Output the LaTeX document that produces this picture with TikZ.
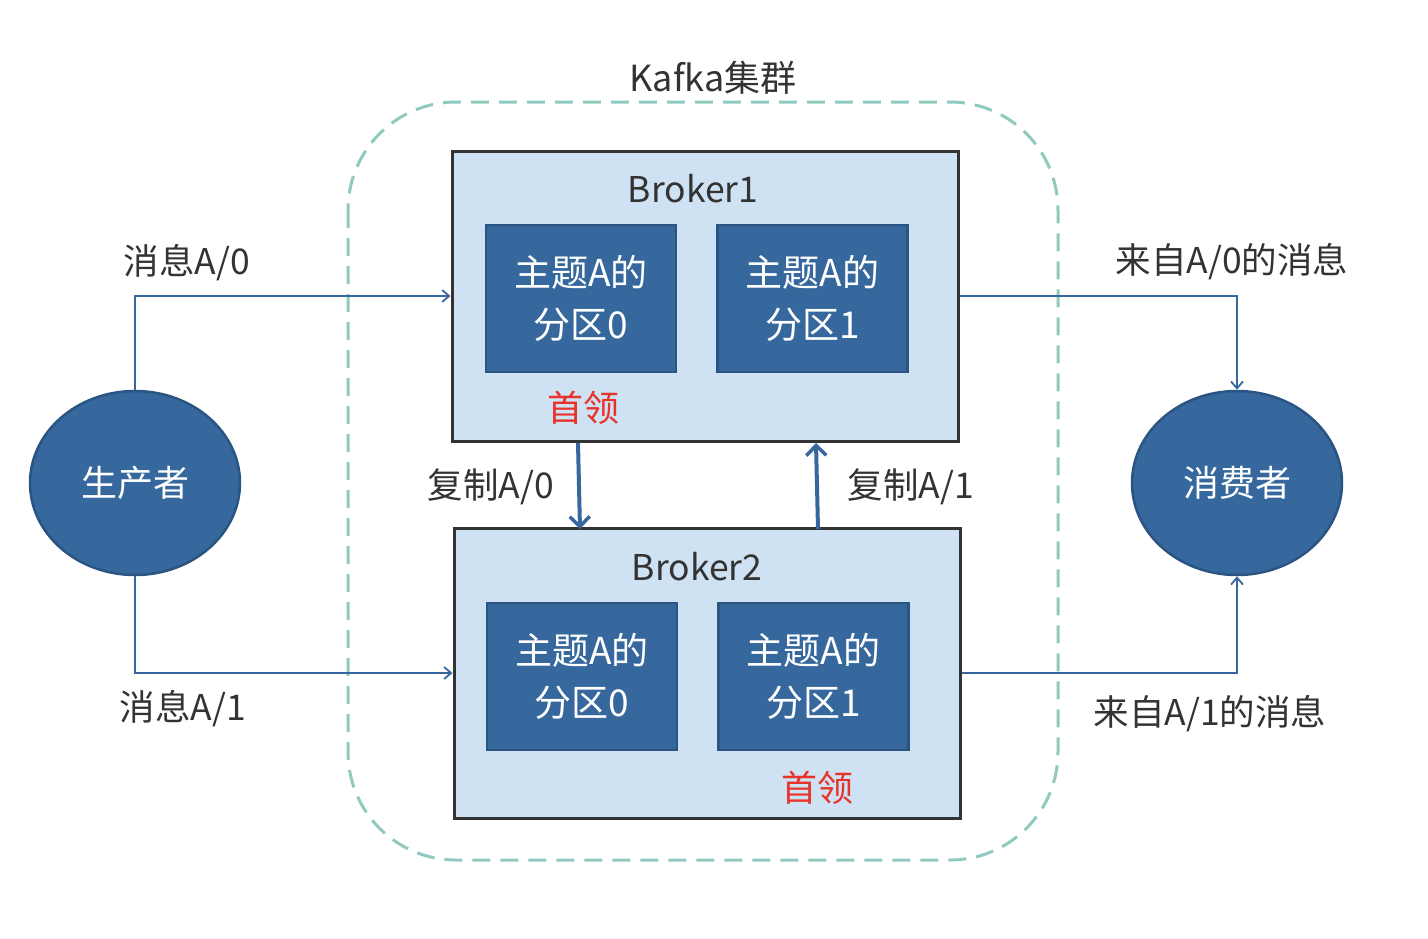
\documentclass[tikz,border=0pt]{standalone}
\usepackage{fontspec}
\setmainfont{Noto Sans CJK SC}
\usetikzlibrary{arrows.meta,shapes.geometric}
\definecolor{cblue}{HTML}{36689E}
\definecolor{cborder}{HTML}{2A5582}
\definecolor{clight}{HTML}{CFE2F3}
\definecolor{cteal}{HTML}{8FC9BF}
\definecolor{ctext}{HTML}{333333}
\definecolor{cred}{HTML}{E8332A}
\tikzset{
  broker/.style={draw=ctext,line width=3pt,fill=clight,minimum width=506pt,minimum height=290pt,inner sep=0pt},
  part/.style={draw=cborder,line width=2.5pt,fill=cblue,minimum width=190pt,minimum height=147pt,inner sep=0pt,text=white,font=\fontsize{37}{52}\selectfont,align=center},
  client/.style={ellipse,draw=cborder,line width=2.5pt,fill=cblue,minimum width=210pt,minimum height=184pt,inner sep=0pt,text=white,font=\fontsize{36}{40}\selectfont},
  lbl/.style={text=ctext,font=\fontsize{35.5}{40}\selectfont,inner sep=0pt},
  leader/.style={text=cred,font=\fontsize{36}{40}\selectfont,inner sep=0pt},
  flow/.style={draw=cblue,line width=1.8pt,-{Straight Barb[length=7pt,width=12pt,line width=1.8pt]}},
  repl/.style={draw=cblue,line width=4pt,-{Straight Barb[length=10pt,width=20pt,line width=3.5pt]}},
}
\begin{document}
\begin{tikzpicture}[x=1pt,y=-1pt]
\useasboundingbox (0,0) rectangle (1428,938);
% cluster
\draw[cteal,line width=3pt,dash pattern=on 18pt off 10pt,rounded corners=108pt] (348,102) rectangle (1058,860);
\node[lbl,font=\fontsize{36}{40}\selectfont] (kafka) at (713,78) {Kafka集群};
% brokers
\node[broker] (b1) at (705,296) {};
\node[broker] (b2) at (707,673.5) {};
\node[lbl] (b1t) at (693,189) {Broker1};
\node[lbl] (b2t) at (697,567) {Broker2};
\node[part] (p10) at (581,298.5) {主题A的\\分区0};
\node[part] (p11) at (812.5,298.5) {主题A的\\分区1};
\node[part] (p20) at (582,676.5) {主题A的\\分区0};
\node[part] (p21) at (813.5,676.5) {主题A的\\分区1};
\node[leader] (l1) at (583,408) {首领};
\node[leader] (l2) at (817,788) {首领};
% clients
\node[client] (prod) at (135,483) {生产者};
\node[client] (cons) at (1237,483) {消费者};
% flows
\coordinate (pu) at (135,296);
\coordinate (pd) at (135,673);
\coordinate (cu) at (1237,296);
\coordinate (cd) at (1237,673);
\draw[flow] (prod.north) -- (pu) -- (b1.west |- pu);
\draw[flow] (prod.south) -- (pd) -- (b2.west |- pd);
\draw[flow] (b1.east |- cu) -- (cu) -- (cons.north);
\draw[flow] (b2.east |- cd) -- (cd) -- (cons.south);
\node[lbl] (m0) at (187,263) {消息A/0};
\node[lbl] (m1) at (183,709) {消息A/1};
\node[lbl] (c0) at (1232,262) {来自A/0的消息};
\node[lbl] (c1) at (1210,714) {来自A/1的消息};
% replication
\coordinate (r1s) at (578,443);
\coordinate (r1e) at (580,529);
\coordinate (r2s) at (818,529);
\coordinate (r2e) at (816,443);
\draw[repl] (r1s) -- (r1e);
\draw[repl] (r2s) -- (r2e);
\node[lbl] (rp0) at (491,487) {复制A/0};
\node[lbl] (rp1) at (911,487) {复制A/1};
\end{tikzpicture}
\end{document}
